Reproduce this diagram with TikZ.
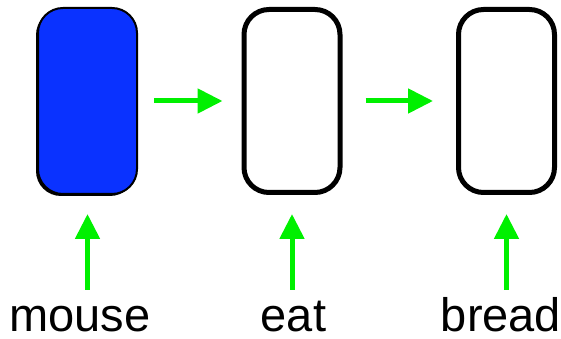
\documentclass[tikz,border=0pt]{standalone}
\usepackage{fontspec}
\setmainfont{Liberation Sans}
\usetikzlibrary{arrows.meta,positioning,shadows}

\definecolor{cellblue}{RGB}{10,50,255}
\definecolor{flowgreen}{RGB}{0,240,0}

\begin{document}
\begin{tikzpicture}[x=1pt,y=1pt,>={Triangle[length=25pt,width=24pt]},node distance=204.5pt, on grid,
  cell/.style={draw, rounded corners=25pt, minimum width=96pt, minimum height=183pt, line width=5pt, inner sep=0pt},
  flow/.style={->, draw=flowgreen, line width=5pt},
  word/.style={font=\fontsize{47}{56}\selectfont, inner sep=0pt, text depth=0pt}]
  \useasboundingbox (0,0) rectangle (561,339);

  % the three cells
  \node[cell, fill=cellblue, line width=2pt, minimum width=99pt, minimum height=186pt,
        drop shadow={shadow xshift=-2pt, shadow yshift=-2pt, opacity=1, fill=black}] (mouse) at (87.5,238) {};
  \node[cell] (eat) [right=of mouse] {};
  \node[cell] (bread) [right=214.5pt of eat] {};

  % inputs
  \node[word] (w-mouse) [below=231pt of mouse, xshift=-7.5pt, anchor=base] {mouse};
  \node[word] (w-eat) [below=231pt of eat, xshift=1.5pt, anchor=base] {eat};
  \node[word] (w-bread) [below=231pt of bread, xshift=-5.5pt, anchor=base] {bread};
  \coordinate[below=189pt of mouse] (in-mouse);
  \coordinate[below=189pt of eat] (in-eat);
  \coordinate[below=189pt of bread] (in-bread);

  \path (mouse) edge[flow, shorten <=16pt, shorten >=19pt] (eat)
        (eat) edge[flow, shorten <=23pt, shorten >=23pt] (bread);
  \path (in-mouse) edge[flow, shorten >=19pt] (mouse)
        (in-eat) edge[flow, shorten >=19pt] (eat)
        (in-bread) edge[flow, shorten >=19pt] (bread);
\end{tikzpicture}
\end{document}
